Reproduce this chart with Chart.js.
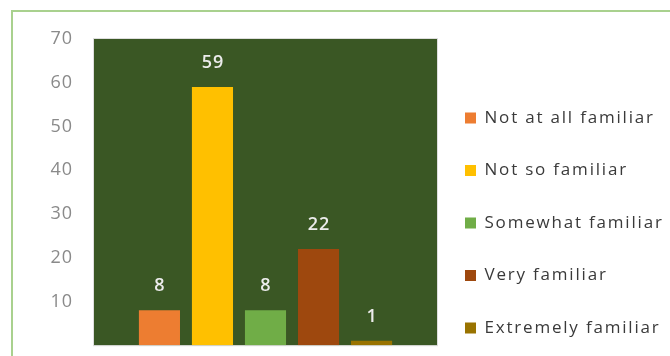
<!DOCTYPE html>
<html>
<head>
<meta charset="utf-8">
<title>Familiarity</title>
<script src="https://cdn.jsdelivr.net/npm/chart.js@4"></script>
<style>
  html, body { margin: 0; padding: 0; background: #ffffff; }
  #wrap { position: relative; width: 670px; height: 356px; }
</style>
</head>
<body>
<div id="wrap"><canvas id="chart" width="670" height="356"></canvas></div>
<script>
// Survey answers: how familiar respondents are
const categories = ['Familiarity'];
const levels = ['Not at all familiar', 'Not so familiar', 'Somewhat familiar', 'Very familiar', 'Extremely familiar'];
const counts = [8, 59, 8, 22, 1];
const levelColors = ['#ED7D31', '#FFC000', '#70AD47', '#9E480E', '#997300'];
const yTicks = [10, 20, 30, 40, 50, 60, 70];

const FONT = '"Open Sans", sans-serif';
const LEGEND_PAD = 35.5;

// Light green frame around the chart, dark green plot background
const backgroundPlugin = {
  id: 'background',
  beforeDraw(chart) {
    const { ctx, chartArea } = chart;
    ctx.letterSpacing = '1px';
    ctx.save();
    ctx.strokeStyle = '#a9d18e';
    ctx.lineWidth = 2;
    ctx.beginPath();
    ctx.moveTo(12, 356);
    ctx.lineTo(12, 11);
    ctx.lineTo(670, 11);
    ctx.stroke();
    ctx.fillStyle = '#3a5724';
    ctx.fillRect(chartArea.left, chartArea.top, chartArea.right - chartArea.left, chartArea.bottom - chartArea.top);
    ctx.strokeStyle = 'rgba(200,200,200,0.6)';
    ctx.lineWidth = 1;
    ctx.strokeRect(chartArea.left - 0.5, chartArea.top - 0.5, chartArea.right - chartArea.left + 1, chartArea.bottom - chartArea.top + 1);
    ctx.restore();
  }
};

// Fixed legend column on the right of the plot, slightly spaced-out text
const legendPlacement = {
  id: 'legendPlacement',
  beforeLayout(chart) {
    const legend = chart.legend;
    if (legend && !legend.patched) {
      const fit = legend.fit;
      const draw = legend.draw;
      legend.fit = function () {
        fit.call(this);
        this.width = 233;
      };
      legend.draw = function () {
        this.ctx.save();
        this.ctx.letterSpacing = '1.8px';
        draw.apply(this, arguments);
        this.ctx.restore();
      };
      legend.patched = true;
    }
  },
  afterLayout(chart) {
    const legend = chart.legend;
    legend.left = 465 - LEGEND_PAD;
    legend.top = 74;
    legend.bottom = 500;
  }
};

// Value above every bar
const valueLabels = {
  id: 'valueLabels',
  afterDatasetsDraw(chart) {
    const { ctx } = chart;
    ctx.save();
    ctx.fillStyle = '#ececec';
    ctx.font = '600 18px ' + FONT;
    ctx.textAlign = 'center';
    ctx.textBaseline = 'middle';
    chart.data.datasets.forEach((ds, i) => {
      chart.getDatasetMeta(i).data.forEach((bar, j) => {
        ctx.fillText(ds.data[j], bar.x + 0.5, bar.y - 24);
      });
    });
    ctx.restore();
  }
};

new Chart(document.getElementById('chart'), {
  type: 'bar',
  data: {
    labels: categories,
    datasets: levels.map((name, i) => ({
      label: name,
      data: [counts[i]],
      backgroundColor: levelColors[i],
      borderWidth: 0
    }))
  },
  options: {
    responsive: false,
    animation: false,
    layout: { padding: { top: 39, bottom: 10, left: 0, right: 0 } },
    categoryPercentage: 0.773,
    barPercentage: 0.775,
    scales: {
      x: { display: false },
      y: {
        min: 0,
        max: 70,
        border: { display: false },
        grid: { display: false, drawTicks: true, tickLength: 21 },
        afterBuildTicks(scale) {
          scale.ticks = yTicks.map(v => ({ value: v }));
        },
        afterFit(scale) { scale.width = 94; },
        ticks: {
          padding: 0,
          color: '#8a8a8a',
          font: { family: FONT, size: 18 }
        }
      }
    },
    plugins: {
      legend: {
        position: 'right',
        align: 'start',
        labels: {
          boxWidth: 11,
          boxHeight: 11,
          padding: LEGEND_PAD,
          color: '#3a3a3a',
          font: { family: FONT, size: 17 }
        }
      },
      tooltip: { enabled: false }
    }
  },
  plugins: [backgroundPlugin, legendPlacement, valueLabels]
});
</script>
</body>
</html>
